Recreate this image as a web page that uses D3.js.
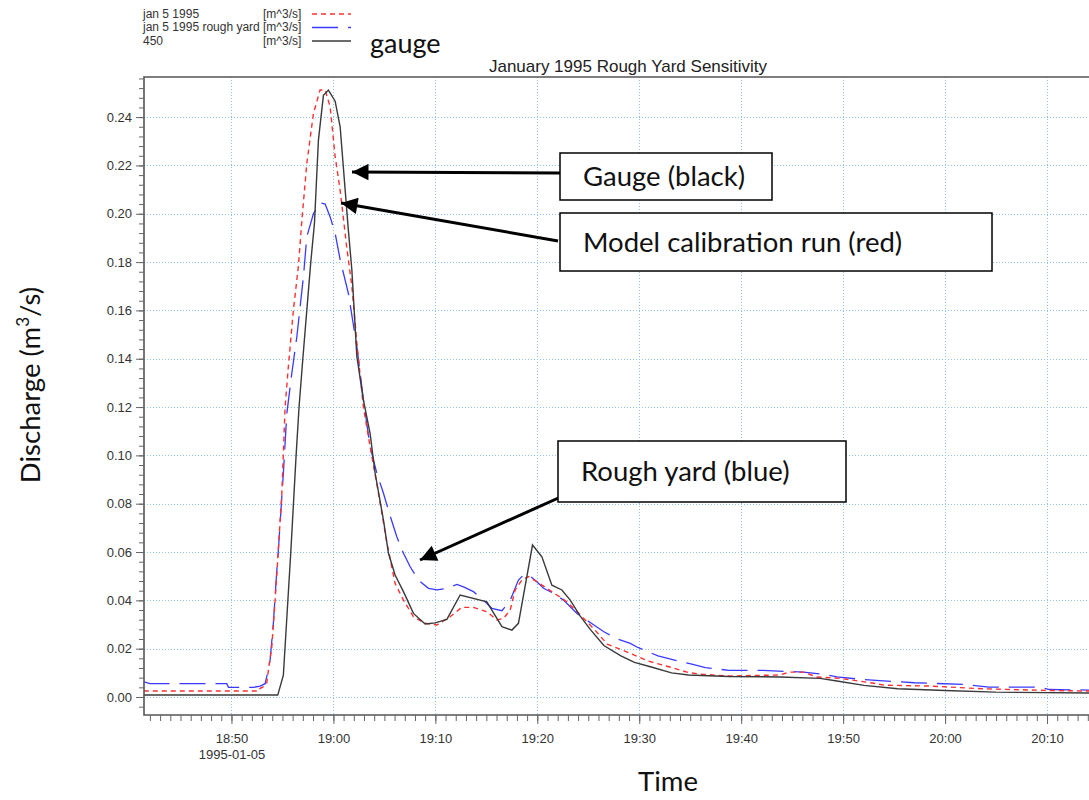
<!DOCTYPE html>
<html>
<head>
<meta charset="utf-8">
<script src="https://cdn.jsdelivr.net/npm/d3@7"></script>
<style>
  html, body { margin: 0; padding: 0; background: #fff; }
  svg { display: block; }
</style>
</head>
<body>
<svg id="chart" width="1089" height="800"></svg>
<script>
// Discharge series, times in minutes relative to 1995-01-05 19:00
const calibMinutes = [-18.6, -7.3, -7.2, -6.87, -6.54, -6.38, -6.05, -5.72, -5.55, -5.06, -4.74, -4.42, -3.93, -3.43, -3.10, -2.61, -1.96, -1.31, -0.81, -0.32, 0.17, 0.66, 1.31, 1.81, 2.30, 2.94, 3.60, 4.42, 5.24, 6.05, 6.87, 7.85, 9.0, 10.15, 11.45, 12.6, 13.74, 15.05, 16.03, 16.68, 17.34, 17.83, 18.49, 19.14, 19.96, 20.94, 21.92, 22.9, 24.21, 25.53, 26.86, 28.87, 30.85, 33.17, 34.83, 36.15, 38.8, 43.77, 44.76, 46.1, 47.41, 49.73, 51.05, 52.71, 54.03, 58.67, 63.63, 70.25, 75];
const calibValues  = [0.0025, 0.0025, 0.0035, 0.0043, 0.0057, 0.011, 0.0205, 0.040, 0.051, 0.0843, 0.120, 0.1367, 0.160, 0.1785, 0.197, 0.2208, 0.2415, 0.2512, 0.2512, 0.2443, 0.2236, 0.2098, 0.186, 0.170, 0.1465, 0.120, 0.1036, 0.0843, 0.064, 0.047, 0.0401, 0.0332, 0.0305, 0.0298, 0.0332, 0.0371, 0.0371, 0.0353, 0.0319, 0.0325, 0.036, 0.0443, 0.0484, 0.0498, 0.0477, 0.045, 0.0422, 0.0394, 0.034, 0.0283, 0.0219, 0.0185, 0.0149, 0.0122, 0.0101, 0.0094, 0.0087, 0.0091, 0.0103, 0.0103, 0.0083, 0.0077, 0.0069, 0.0059, 0.0049, 0.0045, 0.0034, 0.0027, 0.0024];

const roughMinutes = [-18.6, -17.99, -10.46, -10.3, -7.85, -7.19, -6.7, -6.54, -6.21, -5.89, -5.55, -5.4, -4.91, -4.57, -4.08, -3.59, -2.94, -2.61, -1.96, -1.31, -0.81, -0.32, 0.17, 0.66, 1.47, 2.30, 2.94, 3.60, 4.26, 4.91, 5.56, 6.22, 6.87, 7.53, 8.34, 9.32, 10.15, 11.13, 12.11, 12.76, 13.74, 14.72, 15.54, 16.53, 17.34, 18.15, 18.65, 19.14, 19.96, 20.61, 21.59, 22.57, 23.89, 25.19, 26.53, 27.88, 29.12, 29.86, 31.84, 33.84, 35.16, 36.49, 38.8, 42.11, 46.1, 48.08, 49.39, 52.04, 57.01, 61.98, 64.3, 69.26, 70.25, 75];
const roughValues  = [0.0063, 0.0055, 0.0055, 0.0040, 0.0040, 0.0045, 0.0055, 0.0084, 0.0153, 0.0305, 0.0526, 0.0608, 0.0926, 0.1174, 0.134, 0.149, 0.174, 0.1905, 0.200, 0.2045, 0.204, 0.1987, 0.1919, 0.181, 0.167, 0.145, 0.123, 0.1036, 0.0926, 0.0843, 0.075, 0.0663, 0.0595, 0.0539, 0.0484, 0.045, 0.0443, 0.045, 0.0466, 0.0456, 0.0436, 0.0401, 0.0367, 0.0357, 0.040, 0.0484, 0.0505, 0.0505, 0.0477, 0.045, 0.0429, 0.0401, 0.0346, 0.0308, 0.027, 0.024, 0.0222, 0.0205, 0.017, 0.0149, 0.0136, 0.0122, 0.011, 0.011, 0.0103, 0.0094, 0.0083, 0.0072, 0.0059, 0.0052, 0.0041, 0.0041, 0.0031, 0.0028];

const gaugeMinutes = [-18.6, -5.46, -4.91, -4.18, -3.66, -3.37, -3.0, -2.61, -2.22, -1.86, -1.47, -0.98, -0.49, 0.17, 0.66, 1.15, 1.47, 1.81, 2.30, 2.94, 3.60, 4.09, 4.91, 5.40, 6.05, 6.87, 7.85, 9.0, 9.98, 11.13, 12.43, 15.05, 16.53, 17.51, 18.15, 19.53, 20.45, 21.43, 22.41, 23.23, 24.21, 25.19, 26.53, 28.2, 29.53, 31.18, 33.17, 34.83, 38.8, 43.77, 47.74, 49.39, 52.04, 55.36, 59.99, 64.96, 75];
const gaugeValues  = [0.0008, 0.0008, 0.009, 0.06, 0.10, 0.12, 0.14, 0.16, 0.18, 0.196, 0.2305, 0.249, 0.2512, 0.2466, 0.236, 0.21, 0.193, 0.1767, 0.141, 0.123, 0.109, 0.0927, 0.0732, 0.0595, 0.0505, 0.0436, 0.0346, 0.0302, 0.0307, 0.0321, 0.0422, 0.0394, 0.0291, 0.0277, 0.0305, 0.0629, 0.058, 0.0463, 0.0443, 0.0401, 0.0335, 0.028, 0.0213, 0.017, 0.0143, 0.0124, 0.010, 0.0091, 0.0085, 0.0083, 0.0077, 0.0066, 0.0048, 0.0034, 0.0027, 0.002, 0.0016];

// Legend rows
const legendNames = ["jan 5 1995", "jan 5 1995 rough yard", "450"];
const legendUnits = ["[m^3/s]", "[m^3/s]", "[m^3/s]"];

// Axis ticks
const yTickValues = [0, 0.02, 0.04, 0.06, 0.08, 0.10, 0.12, 0.14, 0.16, 0.18, 0.20, 0.22, 0.24];

const chartTitle = "January 1995 Rough Yard Sensitivity";
const notes = ["Gauge (black)", "Model calibration run (red)", "Rough yard (blue)"];

const base = new Date(1995, 0, 5, 19, 0, 0);
const toDate = m => new Date(base.getTime() + m * 60000);

const svg = d3.select("#chart");
const plotLeft = 144, plotTop = 77, plotBottom = 715, plotRight = 1098;
const sansFont = "Liberation Sans, Arial, sans-serif";
const noteFont = "Lato, Open Sans, sans-serif";
const noteSize = 27.5;

const x = d3.scaleTime()
  .domain([toDate(-18.58), toDate(75)])
  .range([plotLeft, plotRight]);
const y = d3.scaleLinear()
  .domain([-0.00745, 0.2566])
  .range([plotBottom, plotTop]);

const defs = svg.append("defs");
defs.append("clipPath").attr("id", "clip")
  .append("rect").attr("x", plotLeft).attr("y", plotTop)
  .attr("width", plotRight - plotLeft).attr("height", plotBottom - plotTop);

const plot = svg.append("g");

// grid
const grid = plot.append("g").attr("stroke", "#8ec2f2").attr("stroke-width", 1).attr("stroke-dasharray", "1,2");
x.ticks(d3.timeMinute.every(10)).forEach(d => {
  grid.append("line").attr("x1", Math.round(x(d)) + 0.5).attr("x2", Math.round(x(d)) + 0.5)
    .attr("y1", plotTop).attr("y2", plotBottom);
});
yTickValues.forEach(v => {
  grid.append("line").attr("x1", plotLeft).attr("x2", plotRight)
    .attr("y1", Math.round(y(v)) + 0.5).attr("y2", Math.round(y(v)) + 0.5);
});

// series
const line = d3.line().x(d => x(d[0])).y(d => y(d[1]));
const series = [
  { t: roughMinutes, v: roughValues, color: "#3a3aff", dash: "26,10", width: 1.3 },
  { t: calibMinutes, v: calibValues, color: "#ff3030", dash: "5,4", width: 1.4 },
  { t: gaugeMinutes, v: gaugeValues, color: "#3a3a3a", dash: null, width: 1.4 }
];
const lines = plot.append("g").attr("clip-path", "url(#clip)");
series.forEach(s => {
  const pts = s.t.map((m, i) => [toDate(m), s.v[i]]);
  lines.append("path").datum(pts)
    .attr("d", line)
    .attr("fill", "none")
    .attr("stroke", s.color)
    .attr("stroke-width", s.width)
    .attr("stroke-dasharray", s.dash);
});

// frame
plot.append("path")
  .attr("d", `M${plotRight},${plotTop}H${plotLeft}V${plotBottom}H${plotRight}`)
  .attr("fill", "none").attr("stroke", "#555").attr("stroke-width", 1.6);

// x axis
const xMinor = svg.append("g").attr("transform", `translate(0,${plotBottom})`)
  .call(d3.axisBottom(x).ticks(d3.timeMinute.every(1)).tickSize(6).tickFormat(""));
const xMajor = svg.append("g").attr("transform", `translate(0,${plotBottom})`)
  .call(d3.axisBottom(x).ticks(d3.timeMinute.every(10)).tickSize(9).tickFormat(d3.timeFormat("%H:%M")));
[xMinor, xMajor].forEach(g => {
  g.select(".domain").remove();
  g.selectAll(".tick line").attr("stroke", "#666");
});
xMajor.selectAll(".tick text")
  .attr("y", 19)
  .attr("font-family", sansFont)
  .attr("font-size", 13)
  .attr("fill", "#333");
xMajor.selectAll(".tick").filter((d, i) => i === 0)
  .append("text")
  .attr("y", 35).attr("dy", "0.71em")
  .attr("text-anchor", "middle")
  .attr("font-family", sansFont)
  .attr("font-size", 13).attr("fill", "#333")
  .text(d3.timeFormat("%Y-%m-%d")(base));

// y axis
const yMinor = svg.append("g").attr("transform", `translate(${plotLeft},0)`)
  .call(d3.axisLeft(y).tickValues(d3.range(-0.004, 0.2566, 0.004)).tickSize(5).tickFormat(""));
const yMajor = svg.append("g").attr("transform", `translate(${plotLeft},0)`)
  .call(d3.axisLeft(y).tickValues(yTickValues).tickSize(8).tickFormat(d3.format(".2f")));
[yMinor, yMajor].forEach(g => {
  g.select(".domain").remove();
  g.selectAll(".tick line").attr("stroke", "#666");
});
yMajor.selectAll(".tick text")
  .attr("x", -12)
  .attr("font-family", sansFont)
  .attr("font-size", 13)
  .attr("fill", "#333");

// title
svg.append("text")
  .attr("x", 628).attr("y", 72)
  .attr("text-anchor", "middle")
  .attr("font-family", sansFont)
  .attr("font-size", 17).attr("fill", "#222")
  .text(chartTitle);

// legend
const legend = svg.append("g").attr("font-family", sansFont)
  .attr("font-size", 12).attr("fill", "#333");
const legendY = [13.5, 27, 40.5];
legendNames.forEach((name, i) => {
  legend.append("text").attr("x", 143).attr("y", legendY[i]).attr("dy", "0.35em").text(name);
  legend.append("text").attr("x", 263).attr("y", legendY[i]).attr("dy", "0.35em").text(legendUnits[i]);
  const s = [series[1], series[0], series[2]][i];
  legend.append("line")
    .attr("x1", 312).attr("x2", 351)
    .attr("y1", legendY[i] + 0.5).attr("y2", legendY[i] + 0.5)
    .attr("stroke", s.color).attr("stroke-width", s.width)
    .attr("stroke-dasharray", s.dash);
});
svg.append("text")
  .attr("x", 370).attr("y", 53)
  .attr("font-family", noteFont)
  .attr("font-size", 27).attr("fill", "#111")
  .text("gauge");

// axis titles
svg.append("text")
  .attr("transform", "translate(40,385) rotate(-90)")
  .attr("text-anchor", "middle")
  .attr("font-family", noteFont).attr("font-size", noteSize).attr("fill", "#111")
  .html('Discharge (m<tspan dy="-11" font-size="17">3</tspan><tspan dy="11">/s)</tspan>');
svg.append("text")
  .attr("x", 668).attr("y", 791)
  .attr("text-anchor", "middle")
  .attr("font-family", noteFont).attr("font-size", noteSize).attr("fill", "#111")
  .text("Time");

// annotation arrows
defs.append("marker").attr("id", "head")
  .attr("viewBox", "0 0 10 10").attr("refX", 10).attr("refY", 5)
  .attr("markerWidth", 7).attr("markerHeight", 5.5).attr("markerUnits", "strokeWidth")
  .attr("orient", "auto")
  .append("path").attr("d", "M0,0L10,5L0,10Z").attr("fill", "#000");

const arrows = [
  [560, 173, 352, 172],
  [558, 241, 341, 203],
  [574, 491, 420, 560]
];
arrows.forEach(a => {
  svg.append("line")
    .attr("x1", a[0]).attr("y1", a[1]).attr("x2", a[2]).attr("y2", a[3])
    .attr("stroke", "#000").attr("stroke-width", 3)
    .attr("marker-end", "url(#head)");
});

// annotation boxes
const boxes = [
  [560, 153, 212, 47],
  [560, 213, 432, 58],
  [558, 441, 288, 61]
];
boxes.forEach((b, i) => {
  svg.append("rect")
    .attr("x", b[0]).attr("y", b[1]).attr("width", b[2]).attr("height", b[3])
    .attr("fill", "#fff").attr("stroke", "#000").attr("stroke-width", 1.5);
  svg.append("text")
    .attr("x", b[0] + 23).attr("y", b[1] + b[3] / 2)
    .attr("dy", "0.35em")
    .attr("font-family", noteFont).attr("font-size", noteSize).attr("fill", "#111")
    .text(notes[i]);
});
</script>
</body>
</html>
